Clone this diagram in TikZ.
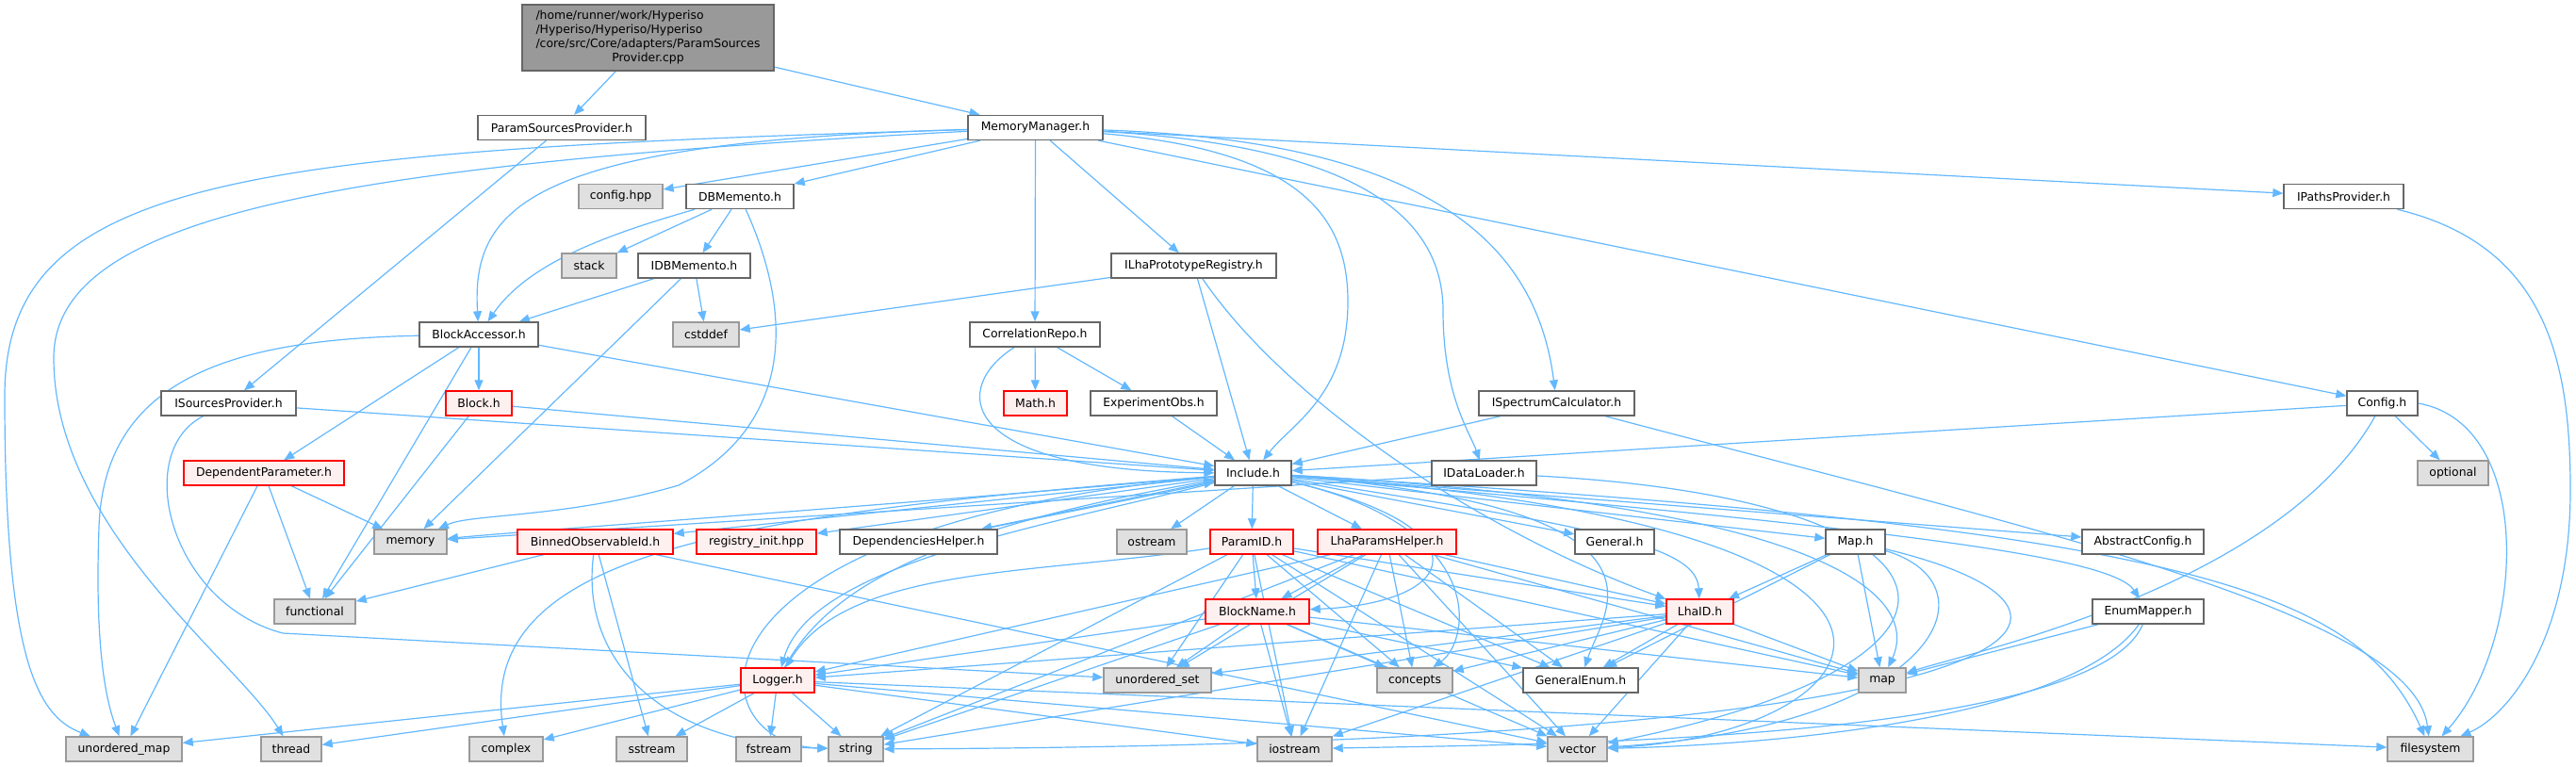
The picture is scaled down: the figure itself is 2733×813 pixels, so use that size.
\documentclass[tikz,border=0pt]{standalone}
\usepackage{fontspec}
\setmainfont{DejaVu Sans}
\usetikzlibrary{arrows.meta,backgrounds}
\definecolor{edgeblue}{HTML}{63B8FF}
\definecolor{hdrborder}{HTML}{666666}
\definecolor{sysborder}{HTML}{999999}
\definecolor{sysfill}{HTML}{E0E0E0}
\definecolor{redfill}{HTML}{FFF0F0}
\definecolor{topfill}{HTML}{999999}
\tikzset{
  hdr/.style={draw=hdrborder, fill=white, line width=.7pt, inner sep=0pt, minimum height=13pt},
  sys/.style={hdr, draw=sysborder, fill=sysfill},
  redhdr/.style={hdr, draw=red, fill=redfill},
  edge/.style={draw=edgeblue, line width=.6pt, -{Triangle[length=5.5pt,width=4.5pt]}}
}

\begin{document}
\begin{tikzpicture}[x=0.5pt, y=-0.5pt, font=\fontsize{6.2}{7.5}\selectfont]
    \useasboundingbox (0,0) rectangle (2733,813);
    % files
    \node[hdr, fill=topfill, minimum width=133.5pt, minimum height=35pt] (top) at (687.5,40)
        {\begin{tabular}{@{}l@{}}/home/runner/work/Hyperiso\\/Hyperiso/Hyperiso/Hyperiso\\/core/src/Core/adapters/ParamSources\\\multicolumn{1}{@{}c@{}}{Provider.cpp}\end{tabular}};
    \node[hdr, minimum width=89pt] (psp) at (596,135.5) {ParamSourcesProvider.h};
    \node[hdr, minimum width=71.5pt] (mm) at (1098.5,135.5) {MemoryManager.h};
    \node[sys, minimum width=44.5pt] (cfghpp) at (658.5,208.5) {config.hpp};
    \node[hdr, minimum width=57pt] (dbm) at (785,208.5) {DBMemento.h};
    \node[hdr, minimum width=63.5pt] (ipp) at (2486.5,208.5) {IPathsProvider.h};
    \node[sys, minimum width=29pt] (stack) at (625,282) {stack};
    \node[hdr, minimum width=59.5pt] (idbm) at (736.5,282) {IDBMemento.h};
    \node[hdr, minimum width=87.5pt] (ilpr) at (1266.5,282) {ILhaPrototypeRegistry.h};
    \node[hdr, minimum width=63pt] (ba) at (508,355) {BlockAccessor.h};
    \node[sys, minimum width=35pt] (cstddef) at (749,355) {cstddef};
    \node[hdr, minimum width=69pt] (cr) at (1098,355) {CorrelationRepo.h};
    \node[hdr, minimum width=71.5pt] (isp) at (242.5,428) {ISourcesProvider.h};
    \node[redhdr, minimum width=35pt] (blk) at (508,428) {Block.h};
    \node[redhdr, minimum width=33.5pt] (math) at (1098.5,428) {Math.h};
    \node[hdr, minimum width=67pt] (eobs) at (1224,428) {ExperimentObs.h};
    \node[hdr, minimum width=82.5pt] (isc) at (1651.5,428) {ISpectrumCalculator.h};
    \node[hdr, minimum width=37.5pt] (conf) at (2527.5,428) {Config.h};
    \node[redhdr, minimum width=85pt] (dp) at (280,502) {DependentParameter.h};
    \node[hdr, minimum width=40.5pt] (inc) at (1329.5,502) {Include.h};
    \node[hdr, minimum width=55.5pt] (idl) at (1574.5,502) {IDataLoader.h};
    \node[sys, minimum width=37.5pt] (optional) at (2602.5,502) {optional};
    \node[sys, minimum width=38.5pt] (memory) at (435.5,575) {memory};
    \node[redhdr, minimum width=82.5pt] (boid) at (631.5,575) {BinnedObservableId.h};
    \node[redhdr, minimum width=63.5pt] (reg) at (802.5,575) {registry\_init.hpp};
    \node[hdr, minimum width=83.5pt] (dh) at (974.5,575) {DependenciesHelper.h};
    \node[sys, minimum width=37pt] (ostream) at (1222,575) {ostream};
    \node[redhdr, minimum width=44pt] (pid) at (1328,575) {ParamID.h};
    \node[redhdr, minimum width=73.5pt] (lph) at (1471.5,575) {LhaParamsHelper.h};
    \node[hdr, minimum width=42pt] (gen) at (1713,575) {General.h};
    \node[hdr, minimum width=31.5pt] (maph) at (1968.5,575) {Map.h};
    \node[hdr, minimum width=64.5pt] (ac) at (2273.5,575) {AbstractConfig.h};
    \node[sys, minimum width=43pt] (functional) at (334,649) {functional};
    \node[redhdr, minimum width=55pt] (bn) at (1334,649) {BlockName.h};
    \node[redhdr, minimum width=35.5pt] (lid) at (1803.5,649) {LhaID.h};
    \node[hdr, minimum width=59pt] (em) at (2279,649) {EnumMapper.h};
    \node[redhdr, minimum width=39pt] (log) at (825,722) {Logger.h};
    \node[sys, minimum width=57pt] (uset) at (1228,722) {unordered\_set};
    \node[sys, minimum width=40pt] (concepts) at (1501,722) {concepts};
    \node[hdr, minimum width=61pt] (ge) at (1677,722) {GeneralEnum.h};
    \node[sys, minimum width=25pt] (map) at (1997,722) {map};
    \node[sys, minimum width=61.5pt] (umap) at (131.5,795) {unordered\_map};
    \node[sys, minimum width=32pt] (thread) at (309,795) {thread};
    \node[sys, minimum width=39pt] (complex) at (537,795) {complex};
    \node[sys, minimum width=37.5pt] (sstream) at (691.5,795) {sstream};
    \node[sys, minimum width=34.5pt] (fstream) at (815.5,795) {fstream};
    \node[sys, minimum width=29pt] (string) at (908,795) {string};
    \node[sys, minimum width=39.5pt] (iostream) at (1373.5,795) {iostream};
    \node[sys, minimum width=31.5pt] (vector) at (1673.5,795) {vector};
    \node[sys, minimum width=45.5pt] (filesystem) at (2578.5,795) {filesystem};
    % includes, behind the files
    \begin{pgfonlayer}{background}
    \draw[edge] (top) -- (psp);
    \draw[edge] (top) -- (mm);
    \draw[edge] (psp) -- (isp);
    \draw[edge] (isp) -- (inc);
    \draw[edge] (isp) .. controls (140,480) and (180,640) .. (300,672) -- (uset);
    \draw[edge] (mm) .. controls (250,160) and (5,190) .. (5,420) .. controls (5,700) and (40,760) .. (umap);
    \draw[edge] (mm) .. controls (350,175) and (57,230) .. (57,380) .. controls (57,560) and (250,700) .. (thread);
    \draw[edge] (mm) .. controls (560,150) and (500,220) .. (ba);
    \foreach \t in {cfghpp,dbm,cr,ilpr,conf,ipp}
        \draw[edge] (mm) -- (\t);
    \draw[edge] (mm) .. controls (1380,160) and (1430,230) .. (1430,320) .. controls (1430,420) and (1370,450) .. (inc);
    \draw[edge] (mm) .. controls (1440,155) and (1531,230) .. (1531,330) .. controls (1531,420) and (1560,460) .. (idl);
    \draw[edge] (mm) .. controls (1520,150) and (1630,260) .. (isc);
    \draw[edge] (dbm) .. controls (640,250) and (560,280) .. (ba);
    \draw[edge] (dbm) -- (stack);
    \draw[edge] (dbm) -- (idbm);
    \draw[edge] (dbm) .. controls (840,330) and (845,450) .. (720,515) .. controls (600,550) and (500,545) .. (memory);
    \foreach \t in {ba,cstddef,memory}
        \draw[edge] (idbm) -- (\t);
    \draw[edge] (ilpr) -- (cstddef);
    \draw[edge] (ilpr) -- (inc);
    \draw[edge] (ilpr) .. controls (1360,420) and (1560,560) .. (lid);
    \draw[edge] (cr) -- (math);
    \draw[edge] (cr) -- (eobs);
    \draw[edge] (cr) .. controls (1010,410) and (1010,500) .. (inc);
    \draw[edge] (eobs) -- (inc);
    \draw[edge] (isc) -- (inc);
    \draw[edge] (isc) .. controls (2150,560) and (2560,650) .. (filesystem);
    \draw[edge] (conf) -- (inc);
    \draw[edge] (conf) .. controls (2420,620) and (2100,690) .. (map);
    \draw[edge] (conf) -- (optional);
    \draw[edge] (conf.east) .. controls (2690,450) and (2680,680) .. (filesystem);
    \draw[edge] (ipp) .. controls (2700,260) and (2727,380) .. (2727,520) .. controls (2727,680) and (2660,760) .. (filesystem);
    \draw[edge] (ba) .. controls (250,360) and (110,400) .. (105,560) .. controls (100,700) and (115,750) .. (umap);
    \foreach \t in {dp,functional,blk,inc}
        \draw[edge] (ba) -- (\t);
    \draw[edge] (blk) -- (functional);
    \draw[edge] (blk) -- (inc);
    \foreach \t in {functional,memory,umap}
        \draw[edge] (dp) -- (\t);
    % Include.h
    \foreach \t in {boid,reg,dh,ostream,pid,lph,gen,maph,ac}
        \draw[edge] (inc) -- (\t);
    \draw[edge] (inc) .. controls (900,540) and (600,560) .. (memory);
    \draw[edge] (inc) .. controls (1100,560) and (860,600) .. (log);
    \draw[edge] (inc) .. controls (700,560) and (740,790) .. (string);
    \draw[edge] (inc) .. controls (800,545) and (505,580) .. (complex);
    \draw[edge] (inc) .. controls (1580,560) and (1560,680) .. (concepts);
    \draw[edge] (inc) .. controls (1800,540) and (1700,650) .. (ge);
    \draw[edge] (inc) .. controls (2000,540) and (2030,650) .. (map);
    \draw[edge] (inc) .. controls (2150,560) and (2000,780) .. (vector);
    \draw[edge] (inc) .. controls (2300,560) and (2500,620) .. (filesystem);
    \draw[edge] (inc) .. controls (1580,560) and (1550,640) .. (bn);
    \draw[edge] (inc) .. controls (1700,560) and (1800,580) .. (lid);
    \draw[edge] (inc) .. controls (2000,560) and (2240,590) .. (em);
    \draw[edge] (dh) .. controls (1100,550) and (1250,520) .. (inc);
    \draw[edge] (log) .. controls (880,620) and (1000,560) .. (inc);
    \draw[edge] (idl) -- (memory);
    \draw[edge] (idl) .. controls (2100,530) and (2150,700) .. (vector);
    % ParamID.h, LhaParamsHelper.h, BlockName.h, LhaID.h
    \foreach \t in {bn,uset,concepts,ge,lid,map,iostream,vector,string}
        \draw[edge] (pid) -- (\t);
    \draw[edge] (pid) .. controls (1100,610) and (900,600) .. (log);
    \foreach \t in {bn,log,uset,concepts,ge,lid,map,iostream,vector,string}
        \draw[edge] (lph) -- (\t);
    \foreach \t in {log,uset,concepts,ge,map,iostream,vector,string}
        \draw[edge] (bn) -- (\t);
    \foreach \t in {log,uset,concepts,ge,map,iostream,vector,string}
        \draw[edge] (lid) -- (\t);
    \foreach \t in {lid,ge,map}
        \draw[edge] (maph) -- (\t);
    \draw[edge] (maph) .. controls (2120,620) and (2060,770) .. (vector);
    \draw[edge] (maph) .. controls (2280,650) and (2200,790) .. (string);
    \draw[edge] (em) -- (map);
    \draw[edge] (em) .. controls (2200,760) and (1900,790) .. (vector);
    \draw[edge] (em) .. controls (2220,790) and (1600,790) .. (iostream);
    % Logger.h, BinnedObservableId.h
    \foreach \t in {umap,thread,complex,sstream,fstream,string,iostream,vector,filesystem}
        \draw[edge] (log) -- (\t);
    \draw[edge] (boid) -- (functional);
    \draw[edge] (boid) -- (sstream);
    \draw[edge] (boid) .. controls (615,700) and (700,790) .. (string);
    \draw[edge] (boid) -- (vector);
    \end{pgfonlayer}
\end{tikzpicture}
\end{document}
